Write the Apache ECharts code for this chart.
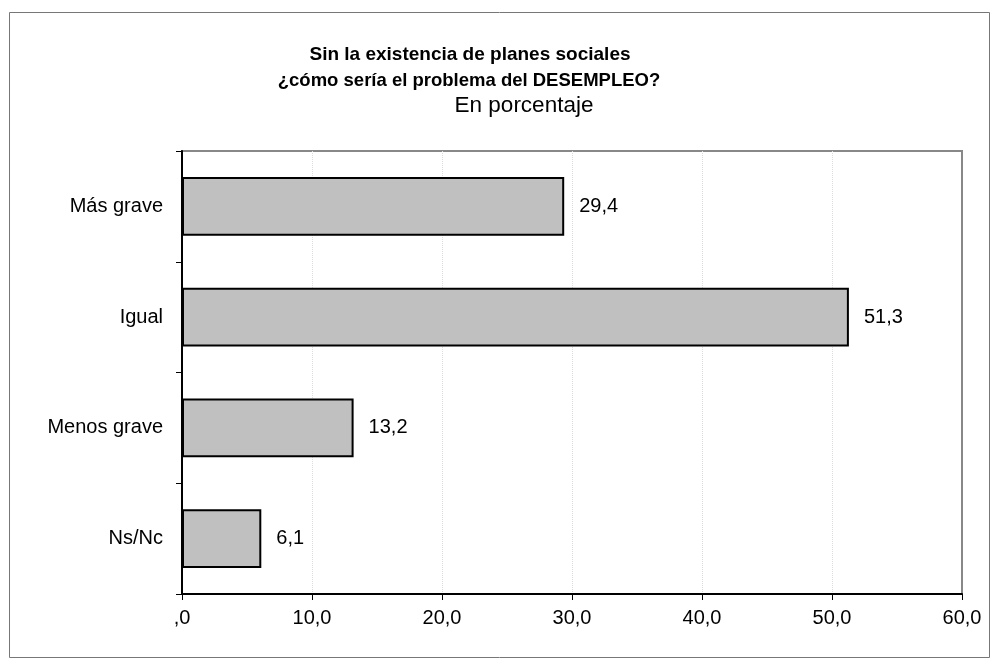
<!DOCTYPE html>
<html>
<head>
<meta charset="utf-8">
<script src="https://cdn.jsdelivr.net/npm/echarts@6/dist/echarts.min.js"></script>
<style>
  html, body { margin: 0; padding: 0; background: #fff; }
  #chart { width: 999px; height: 666px; }
</style>
</head>
<body>
<div id="chart"></div>
<script>
  // respuestas y porcentajes
  var categorias = ['Más grave', 'Igual', 'Menos grave', 'Ns/Nc'];
  var porcentajes = [29.4, 51.3, 13.2, 6.1];
  var ejeX = [0, 10, 20, 30, 40, 50, 60];

  var fuente = 'Liberation Sans, Arial, sans-serif';

  function coma (v, dec) {
    var s = Number(v).toFixed(dec).replace('.', ',');
    if (s.indexOf('0,') === 0) s = s.slice(1);
    return s;
  }

  var myChart = echarts.init(document.getElementById('chart'));
  myChart.setOption({
    animation: false,
    textStyle: { fontFamily: fuente, color: '#000' },
    graphic: [{
      type: 'rect',
      shape: { x: 9.5, y: 12.5, width: 980, height: 645 },
      style: { fill: 'none', stroke: '#777', lineWidth: 1 },
      z: -10
    }, {
      type: 'text',
      style: {
        x: 470, y: 55,
        text: 'Sin la existencia de planes sociales',
        align: 'center',
        verticalAlign: 'middle',
        font: 'bold 19px ' + fuente,
        fill: '#000'
      }
    }, {
      type: 'text',
      style: {
        x: 469, y: 81,
        text: '¿cómo sería el problema del DESEMPLEO?',
        align: 'center',
        verticalAlign: 'middle',
        font: 'bold 18.5px ' + fuente,
        fill: '#000'
      }
    }, {
      type: 'text',
      style: {
        x: 524, y: 106,
        text: 'En porcentaje',
        align: 'center',
        verticalAlign: 'middle',
        font: '22.5px ' + fuente,
        fill: '#000'
      }
    }],
    grid: {
      left: 182,
      right: 37,
      top: 151,
      bottom: 72,
      show: true,
      borderColor: '#888',
      borderWidth: 2,
      backgroundColor: 'transparent'
    },
    xAxis: {
      type: 'value',
      min: ejeX[0],
      max: ejeX[ejeX.length - 1],
      interval: 10,
      axisLine: { show: true, lineStyle: { color: '#000', width: 2 } },
      axisTick: { show: true, length: 6, lineStyle: { color: '#000' } },
      axisLabel: {
        fontSize: 20,
        color: '#000',
        margin: 14,
        formatter: function (v) { return coma(v, 1); }
      },
      splitLine: {
        show: true,
        showMaxLine: false,
        lineStyle: { color: '#ddd', type: 'dotted', width: 1 }
      }
    },
    yAxis: {
      type: 'category',
      inverse: true,
      data: categorias,
      axisLine: { show: true, lineStyle: { color: '#000', width: 2 } },
      axisTick: { show: true, length: 6, lineStyle: { color: '#000' } },
      axisLabel: { fontSize: 20, color: '#000', margin: 19 }
    },
    series: [{
      type: 'bar',
      data: porcentajes,
      barWidth: '53%',
      itemStyle: { color: '#c0c0c0', borderColor: '#000', borderWidth: 2 },
      label: {
        show: true,
        position: 'right',
        distance: 15,
        fontSize: 20,
        color: '#000',
        formatter: function (p) { return coma(p.value, 1); }
      }
    }]
  });
</script>
</body>
</html>
